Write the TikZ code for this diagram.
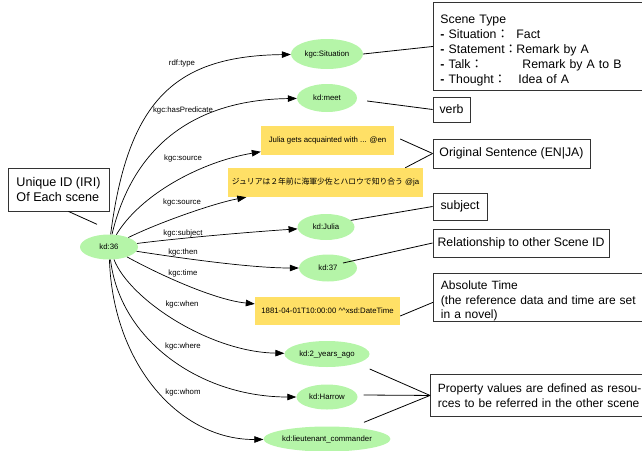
\documentclass[tikz,border=0pt]{standalone}
\usepackage{fontspec}
\setmainfont{Liberation Sans}
\newfontfamily\cjk{Noto Sans CJK JP}
\usetikzlibrary{shapes.geometric,arrows.meta,calc}
\definecolor{resgreen}{HTML}{B5F5A8}
\definecolor{lityellow}{HTML}{FFE066}
\definecolor{notegray}{HTML}{333333}
\newcommand{\shiftdown}[2]{\raisebox{-#1}[\height][\depth]{\begin{tabular}{@{}l@{}}#2\end{tabular}}}
\begin{document}
\begin{tikzpicture}[x=1pt,y=-1pt,
 res/.style={ellipse,fill=resgreen,draw=none,inner sep=0pt,font=\fontsize{7.8}{9}\selectfont},
 lit/.style={rectangle,fill=lityellow,draw=none,inner sep=0pt,font=\fontsize{7.8}{9}\selectfont},
 note/.style={rectangle,draw=notegray,line width=0.9pt,inner xsep=6pt,inner ysep=2pt,align=left,font=\fontsize{12.3}{14.8}\selectfont},
 lbl/.style={font=\fontsize{7.8}{9}\selectfont,inner sep=0pt},
 rel/.style={-{Triangle[length=9pt,width=6.5pt]},line width=0.7pt},
 lead/.style={line width=0.8pt}]
\useasboundingbox (0,0) rectangle (642,450);
% resources and literals
\node[res,minimum width=58pt,minimum height=25pt] (k36) at (109,247) {kd:36};
\node[res,minimum width=72pt,minimum height=30pt] (sit) at (327,54) {kgc:Situation};
\node[res,minimum width=60pt,minimum height=28pt] (meet) at (327,98) {kd:meet};
\node[lit,minimum width=133pt,minimum height=29pt] (jen) at (327.5,140.5) {Julia gets acquainted with ... @en};
\node[lit,minimum width=195pt,minimum height=29pt] (jja) at (325.5,182.5) {{\cjk ジュリアは２年前に海軍少佐とハロウで知り合う} @ja};
\node[res,minimum width=57pt,minimum height=26pt] (julia) at (326,227) {kd:Julia};
\node[res,minimum width=58pt,minimum height=27pt] (k37) at (328,268) {kd:37};
\node[lit,minimum width=145pt,minimum height=28pt] (dt) at (327.5,311) {1881-04-01T10:00:00 \string^\string^xsd:DateTime};
\node[res,minimum width=85pt,minimum height=26pt] (ago) at (327,354) {kd:2\_years\_ago};
\node[res,minimum width=61pt,minimum height=25pt] (harrow) at (327,397) {kd:Harrow};
\node[res,minimum width=125pt,minimum height=25pt] (lieut) at (327,439) {kd:lieutenant\_commander};
% notes
\node[note,anchor=north west,minimum width=214pt,minimum height=88pt,text width=200pt] (scene) at (433,2) {\shiftdown{4pt}{Scene Type\\
\makebox[76pt][l]{\textbf{-} Situation{\cjk ：}}Fact\\
\makebox[76pt][l]{\textbf{-} Statement{\cjk ：}}Remark by A\\
\makebox[82pt][l]{\textbf{-} Talk{\cjk ：}}Remark by A to B\\
\makebox[78pt][l]{\textbf{-} Thought{\cjk ：}}Idea of A}};
\node[note,minimum width=37pt,minimum height=25pt,inner xsep=0pt] (verb) at (451.5,109.5) {verb};
\node[note,minimum width=157pt,minimum height=29pt,inner xsep=0pt] (orig) at (511.5,153.5) {Original Sentence (EN|JA)};
\node[note,minimum width=54pt,minimum height=27pt,inner xsep=0pt] (subj) at (460,206.5) {subject};
\node[note,minimum width=176pt,minimum height=28pt,inner xsep=0pt] (relnote) at (521,243) {Relationship to other Scene ID};
\node[note,anchor=north west,minimum width=230pt,minimum height=45pt,text width=215pt,inner xsep=5pt,font=\fontsize{12}{14.6}\selectfont] (abs) at (433,273) {\shiftdown{4pt}{Absolute Time\\(the reference data and time are set\\in a novel)}};
\node[note,anchor=north west,minimum width=230pt,minimum height=42pt,text width=215pt,inner xsep=5pt,font=\fontsize{12}{14.8}\selectfont] (prop) at (430,374) {Property values are defined as resou-\\rces to be referred in the other scene};
\node[note,minimum width=101pt,minimum height=43pt,font=\fontsize{12.6}{15}\selectfont] (uid) at (58.5,189.5) {Unique ID (IRI)\\Of Each scene};
% leader lines
\draw[lead] ($(uid.south)+(10,0)$) -- ($(k36.north)+(-12,-10)$);
\draw[lead] (sit.east) -- (scene.west);
\draw[lead] ($(meet.east)+(10,3)$) -- (verb.west);
\draw[lead] ($(jen.east)+(6,-1.5)$) -- (orig.west);
\draw[lead] ($(jja.north east)+(-18,0)$) -- (orig.west);
\draw[lead] (julia.15) -- (subj.west);
\draw[lead] ($(k37)+(15,-5)$) -- (relnote.west);
\draw[lead] ($(dt.east)+(0,5)$) -- ($(abs.west)+(0,5)$);
\draw[lead] ($(ago.east)+(0,15)$) -- (prop.west);
\draw[lead] ($(harrow.east)+(6,-2)$) -- (prop.west);
\draw[lead] ($(lieut.north)+(37,-4)$) -- (prop.west);
% property edges
\draw[rel] (k36) .. controls (128,100) and (175,56) .. (sit);
\draw[rel] (k36) .. controls (132,150) and (190,100) .. (meet);
\draw[rel] (k36) .. controls (140,195) and (200,162) .. (jen);
\draw[rel] (k36) .. controls (160,222) and (215,203) .. (jja);
\draw[rel] (k36) .. controls (180,238) and (250,232) .. (julia);
\draw[rel] (k36) .. controls (180,258) and (250,268) .. (k37);
\draw[rel] (k36) .. controls (160,275) and (215,300) .. (dt);
\draw[rel] (k36) .. controls (130,300) and (210,352) .. (ago);
\draw[rel] (k36) .. controls (120,340) and (200,397) .. (harrow);
\draw[rel] (k36) .. controls (113,365) and (180,440) .. (lieut);
% edge labels
\node[lbl] (l1) at (182,63) {rdf:type};
\node[lbl] (l2) at (183,110) {kgc:hasPredicate};
\node[lbl] (l3) at (183,158) {kgc:source};
\node[lbl] (l4) at (182,202) {kgc:source};
\node[lbl] (l5) at (183,233) {kgc:subject};
\node[lbl] (l6) at (183,252) {kgc:then};
\node[lbl] (l7) at (183,273) {kgc:time};
\node[lbl] (l8) at (182,304) {kgc:when};
\node[lbl] (l9) at (183,346) {kgc:where};
\node[lbl] (l10) at (183,392) {kgc:whom};
\end{tikzpicture}
\end{document}
